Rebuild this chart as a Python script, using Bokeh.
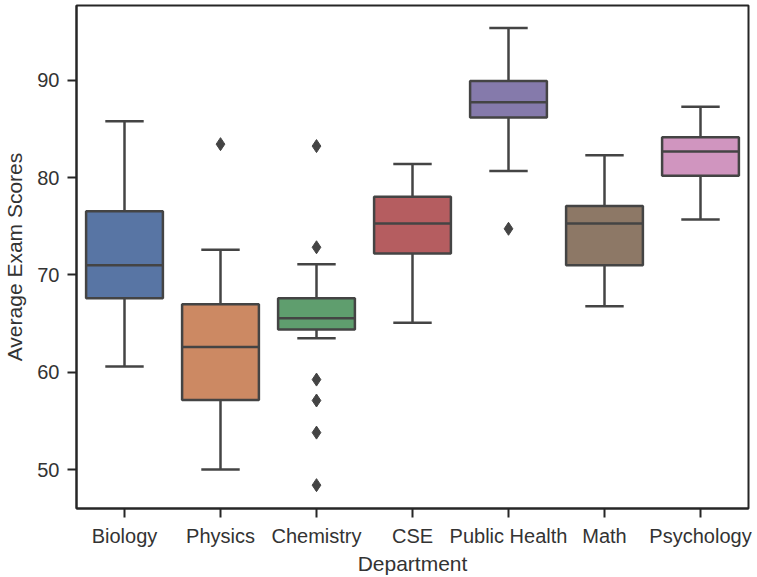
from bokeh.plotting import figure
from bokeh.models import Range1d, FixedTicker
from bokeh.embed import file_html
from bokeh.resources import INLINE

departments = ["Biology", "Physics", "Chemistry", "CSE", "Public Health", "Math", "Psychology"]
whisker_low = [60.6, 50.0, 63.5, 65.1, 80.7, 66.8, 75.7]
q1 = [67.6, 57.15, 64.4, 72.2, 86.2, 71.0, 80.2]
median = [71.0, 62.6, 65.55, 75.3, 87.75, 75.3, 82.7]
q3 = [76.55, 67.0, 67.6, 78.05, 89.95, 77.1, 84.15]
whisker_high = [85.8, 72.6, 71.1, 81.4, 95.4, 82.3, 87.3]
outliers = {
    "Biology": [],
    "Physics": [83.45],
    "Chemistry": [83.25, 72.85, 59.25, 57.1, 53.8, 48.4],
    "CSE": [],
    "Public Health": [74.75],
    "Math": [],
    "Psychology": [],
}
colors = ["#5875a4", "#cc8963", "#5f9e6e", "#b55d60", "#857aab", "#8d7866", "#d095bf"]
y_ticks = [50, 60, 70, 80, 90]

BOX_W = 0.8
CAP_W = 0.4
LINE = "#444444"
TEXT = "#262626"
FONT = "Liberation Sans"

p = figure(width=757, height=577, output_backend="svg", toolbar_location=None,
           x_range=Range1d(-0.5, len(departments) - 0.5), y_range=Range1d(46.0, 97.7),
           min_border_left=74, min_border_right=9, min_border_top=5, min_border_bottom=69)

xs = list(range(len(departments)))

# whiskers
p.segment(x0=xs, y0=whisker_low, x1=xs, y1=q1, line_color=LINE, line_width=2.5)
p.segment(x0=xs, y0=q3, x1=xs, y1=whisker_high, line_color=LINE, line_width=2.5)
# caps
p.segment(x0=[x - CAP_W / 2 for x in xs], y0=whisker_low, x1=[x + CAP_W / 2 for x in xs], y1=whisker_low,
          line_color=LINE, line_width=2.5)
p.segment(x0=[x - CAP_W / 2 for x in xs], y0=whisker_high, x1=[x + CAP_W / 2 for x in xs], y1=whisker_high,
          line_color=LINE, line_width=2.5)
# boxes
p.vbar(x=xs, bottom=q1, top=q3, width=BOX_W, fill_color=colors, line_color=LINE, line_width=2.5)
# medians
p.segment(x0=[x - BOX_W / 2 for x in xs], y0=median, x1=[x + BOX_W / 2 for x in xs], y1=median,
          line_color=LINE, line_width=2.5)
# outliers
ox, oy = [], []
for i, d in enumerate(departments):
    for v in outliers[d]:
        ox.append(i)
        oy.append(v)
p.scatter(x=ox, y=oy, marker="diamond", size=13, fill_color=LINE, line_color=LINE)

p.xgrid.visible = False
p.ygrid.visible = False

p.xaxis.ticker = FixedTicker(ticks=xs)
p.xaxis.major_label_overrides = {i: d for i, d in enumerate(departments)}
p.yaxis.ticker = FixedTicker(ticks=y_ticks)
p.xaxis.minor_tick_line_color = None
p.yaxis.minor_tick_line_color = None

for ax in (p.xaxis, p.yaxis):
    ax.axis_line_color = TEXT
    ax.axis_line_width = 2
    ax.major_tick_line_color = TEXT
    ax.major_tick_line_width = 2
    ax.major_tick_in = 0
    ax.major_tick_out = 9
    ax.major_label_text_font = FONT
    ax.major_label_text_font_size = "20px"
    ax.major_label_text_color = "#333333"
    ax.axis_label_text_font = FONT
    ax.axis_label_text_font_size = "21px"
    ax.axis_label_text_font_style = "normal"
    ax.axis_label_text_color = "#333333"

p.xaxis.axis_label = "Department"
p.yaxis.axis_label = "Average Exam Scores"
p.xaxis.major_label_standoff = 7
p.yaxis.major_label_standoff = 8
p.xaxis.axis_label_standoff = 2
p.yaxis.axis_label_standoff = 8

p.outline_line_color = TEXT
p.outline_line_width = 2
p.outline_line_alpha = 1.0
p.background_fill_color = "white"
p.border_fill_color = "white"

open("out.html", "w").write(file_html(p, INLINE))
